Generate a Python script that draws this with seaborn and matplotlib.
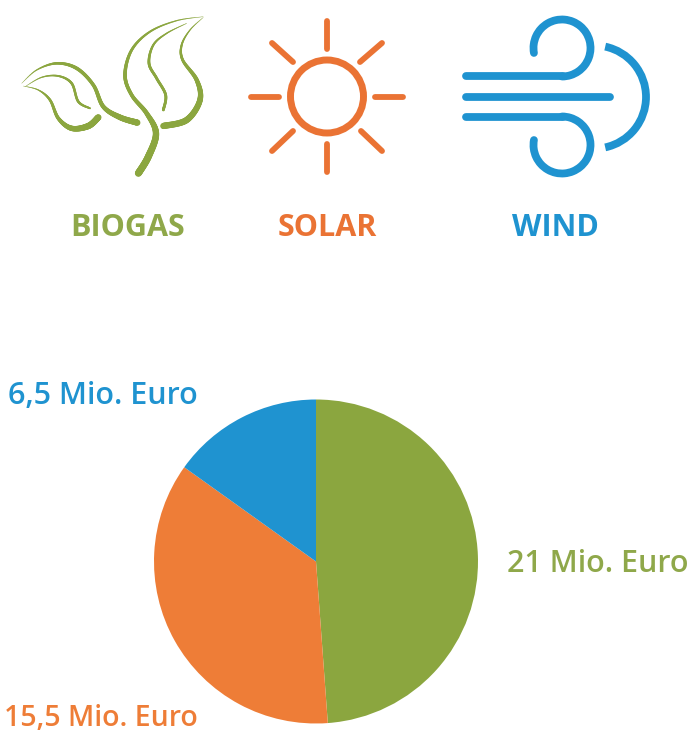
import matplotlib
matplotlib.use('Agg')
import matplotlib.pyplot as plt
import numpy as np
import seaborn as sns
from matplotlib.collections import LineCollection
from matplotlib.patches import Arc, Circle

# invest per energy source, in Mio. Euro
sources = ['Biogas', 'Solar', 'Wind']
invest = [21, 15.5, 6.5]
invest_labels = ['21 Mio. Euro', '15,5 Mio. Euro', '6,5 Mio. Euro']
icon_labels = ['BIOGAS', 'SOLAR', 'WIND']
colors = ['#8ba63f', '#ee7d37', '#1f93d0']
text_colors = ['#8fa84a', '#ea7334', '#1f93d0']

W, H = 693, 733

sns.set_theme(style='white')
plt.rcParams['font.family'] = ['Open Sans', 'DejaVu Sans']
palette = sns.color_palette(colors)
icon_orange = '#ea7334'


def smooth(points, widths, n=24):
    # catmull-rom through the points, widths go along
    p = np.array(points, dtype=float) / 3.0
    p = np.vstack([p[0], p, p[-1]])
    xy, lw = [], []
    for i in range(1, len(p) - 2):
        for t in np.linspace(0, 1, n, endpoint=False):
            a = 2 * p[i] + (p[i + 1] - p[i - 1]) * t
            b = (2 * p[i - 1] - 5 * p[i] + 4 * p[i + 1] - p[i + 2]) * t ** 2
            c = (-p[i - 1] + 3 * p[i] - 3 * p[i + 1] + p[i + 2]) * t ** 3
            xy.append(0.5 * (a + b + c))
            lw.append(widths[i - 1] + (widths[i] - widths[i - 1]) * t)
    xy.append(p[-2])
    lw.append(widths[-1])
    return np.array(xy), np.array(lw)


def draw_leaf(ax, points, widths, color):
    xy, lw = smooth(points, widths)
    segs = np.stack([xy[:-1], xy[1:]], axis=1)
    ax.add_collection(LineCollection(segs, linewidths=lw[:-1], colors=color, capstyle='round'))


fig = plt.figure(figsize=(W / 100, H / 100), dpi=100, facecolor='white')

# full size axes in pixels for icons and text
ax = fig.add_axes([0, 0, 1, 1])
ax.set_xlim(0, W)
ax.set_ylim(H, 0)
ax.axis('off')

# biogas icon
leaf_paths = [
    ([(415, 520), (445, 470), (468, 400), (440, 340), (395, 285), (375, 225), (395, 150), (450, 95), (530, 62), (610, 50)],
     [5, 5, 4.5, 3.2, 2.6, 2.6, 2, 1.4, 0.8, 0.2]),
    ([(490, 330), (497, 285), (470, 235), (447, 190), (460, 135), (500, 100), (560, 70)],
     [2, 2, 2, 2, 1.5, 1, 0.3]),
    ([(490, 378), (560, 360), (600, 300), (590, 240), (548, 180), (545, 135), (570, 90), (610, 52)],
     [4.5, 4.5, 4, 3, 2, 1.4, 0.8, 0.2]),
    ([(412, 368), (360, 352), (310, 320), (280, 255), (230, 205), (170, 190), (110, 210), (65, 250)],
     [4.5, 4, 3, 2.5, 2.5, 1.8, 0.8, 0.2]),
    ([(270, 325), (235, 305), (215, 250), (175, 228), (125, 232), (75, 260)],
     [1.3, 1.8, 1.8, 1.3, 0.8, 0.2]),
    ([(295, 352), (265, 378), (215, 385), (175, 355), (150, 300), (115, 270), (70, 258)],
     [4.5, 4.5, 3.8, 2.5, 1.8, 0.8, 0.2]),
]
for pts, wid in leaf_paths:
    draw_leaf(ax, pts, wid, palette[0])

# solar icon
ax.add_patch(Circle((327, 96.5), 36.5, fill=False, ec=icon_orange, lw=5))
rays = [((327, 21), (327, 49)), ((327, 144), (327, 172)), ((251, 96.5), (279, 96.5)), ((375, 96.5), (403, 96.5)),
        ((272, 43), (293, 62)), ((382, 43), (360, 62)), ((272, 151), (293, 131)), ((382, 151), (361, 131))]
for a, b in rays:
    ax.plot([a[0], b[0]], [a[1], b[1]], color=icon_orange, lw=4.2, solid_capstyle='round')

# wind icon
wind_lw = 5.6
for y, x_end in [(76, 563), (96.5, 610), (117, 563)]:
    ax.plot([466, x_end], [y, y], color=palette[2], lw=wind_lw, solid_capstyle='round')
# y axis is inverted here so the arc angles run clockwise on screen
ax.add_patch(Arc((562, 48), 57, 57, theta1=170, theta2=90, color=palette[2], lw=wind_lw, capstyle='round'))
ax.add_patch(Arc((562, 145), 57, 57, theta1=270, theta2=190, color=palette[2], lw=wind_lw, capstyle='round'))
ax.add_patch(Arc((594.5, 97), 103, 103, theta1=-78, theta2=78, color=palette[2], lw=wind_lw))

# icon captions
for x, txt, c in zip([128, 327, 555], icon_labels, text_colors):
    ax.text(x, 228, txt, color=c, fontsize=22, fontweight='bold', ha='center', va='center')

# pie in its own axes, placed in pixels
cx, cy, r = 316, 561.5, 162
ax_pie = fig.add_axes([(cx - r) / W, 1 - (cy + r) / H, 2 * r / W, 2 * r / H])
ax_pie.pie(invest, colors=palette, startangle=90, counterclock=False, radius=1,
           wedgeprops={'linewidth': 0, 'edgecolor': 'none'})
ax_pie.set_xlim(-1, 1)
ax_pie.set_ylim(-1, 1)

# value labels, the 15,5 one a bit smaller so it stays inside the figure
ax.text(507, 564, invest_labels[0], color=text_colors[0], fontsize=22, fontweight='semibold', ha='left', va='center')
ax.text(198, 719, invest_labels[1], color=colors[1], fontsize=20.5, fontweight='semibold', ha='right', va='center')
ax.text(198, 396, invest_labels[2], color=text_colors[2], fontsize=22, fontweight='semibold', ha='right', va='center')
ax.set_zorder(2)
ax.patch.set_alpha(0)

fig.savefig('out.png', dpi=100)
plt.close(fig)
